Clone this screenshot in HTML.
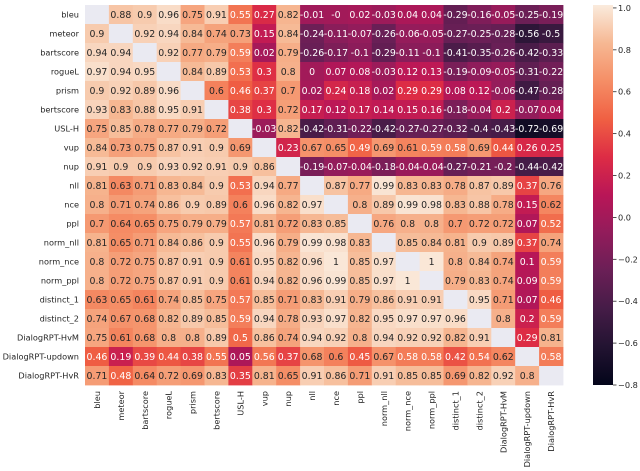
<!DOCTYPE html>
<html><head><meta charset="utf-8">
<style>
html,body{margin:0;padding:0;background:#fff;}
svg{display:block;font-family:"DejaVu Sans","Liberation Sans",sans-serif;}
</style></head>
<body>
<svg id="chart" width="640" height="471" viewBox="0 0 640 471" xmlns="http://www.w3.org/2000/svg"></svg>
<script>
const labels = ["bleu","meteor","bartscore","rogueL","prism","bertscore","USL-H","vup","nup","nll","nce","ppl","norm_nll","norm_nce","norm_ppl","distinct_1","distinct_2","DialogRPT-HvM","DialogRPT-updown","DialogRPT-HvR"];
const N = null;
const row0 = [N,0.88,0.9,0.96,0.75,0.91,0.55,0.27,0.82,-0.01,"-0",0.02,-0.03,0.04,0.04,-0.29,-0.16,-0.05,-0.25,-0.19];
const row1 = [0.9,N,0.92,0.94,0.84,0.74,0.73,0.15,0.84,-0.24,-0.11,-0.07,-0.26,-0.06,-0.05,-0.27,-0.25,-0.28,-0.56,-0.5];
const row2 = [0.94,0.94,N,0.92,0.77,0.79,0.59,0.02,0.79,-0.26,-0.17,-0.1,-0.29,-0.11,-0.1,-0.41,-0.35,-0.26,-0.42,-0.33];
const row3 = [0.97,0.94,0.95,N,0.84,0.89,0.53,0.3,0.8,0,0.07,0.08,-0.03,0.12,0.13,-0.19,-0.09,-0.05,-0.31,-0.22];
const row4 = [0.9,0.92,0.89,0.96,N,0.6,0.46,0.37,0.7,0.02,0.24,0.18,0.02,0.29,0.29,0.08,0.12,-0.06,-0.47,-0.28];
const row5 = [0.93,0.83,0.88,0.95,0.91,N,0.38,0.3,0.72,0.17,0.12,0.17,0.14,0.15,0.16,-0.18,-0.04,0.2,-0.07,0.04];
const row6 = [0.75,0.85,0.78,0.77,0.79,0.72,N,-0.03,0.82,-0.42,-0.31,-0.22,-0.42,-0.27,-0.27,-0.32,-0.4,-0.43,-0.72,-0.69];
const row7 = [0.84,0.73,0.75,0.87,0.91,0.9,0.69,N,0.23,0.67,0.65,0.49,0.69,0.61,0.59,0.58,0.69,0.44,0.26,0.25];
const row8 = [0.91,0.9,0.9,0.93,0.92,0.91,0.9,0.86,N,-0.19,-0.07,-0.04,-0.18,-0.04,-0.04,-0.27,-0.21,-0.2,-0.44,-0.42];
const row9 = [0.81,0.63,0.71,0.83,0.84,0.9,0.53,0.94,0.77,N,0.87,0.77,0.99,0.83,0.83,0.78,0.87,0.89,0.37,0.76];
const row10 = [0.8,0.71,0.74,0.86,0.9,0.89,0.6,0.96,0.82,0.97,N,0.8,0.89,0.99,0.98,0.83,0.88,0.78,0.15,0.62];
const row11 = [0.7,0.64,0.65,0.75,0.79,0.79,0.57,0.81,0.72,0.83,0.85,N,0.76,0.8,0.8,0.7,0.72,0.72,0.07,0.52];
const row12 = [0.81,0.65,0.71,0.84,0.86,0.9,0.55,0.96,0.79,0.99,0.98,0.83,N,0.85,0.84,0.81,0.9,0.89,0.37,0.74];
const row13 = [0.8,0.72,0.75,0.87,0.91,0.9,0.61,0.95,0.82,0.96,1,0.85,0.97,N,1,0.8,0.84,0.74,0.1,0.59];
const row14 = [0.8,0.72,0.75,0.87,0.91,0.9,0.61,0.94,0.82,0.96,0.99,0.85,0.97,1,N,0.79,0.83,0.74,0.09,0.59];
const row15 = [0.63,0.65,0.61,0.74,0.85,0.75,0.57,0.85,0.71,0.83,0.91,0.79,0.86,0.91,0.91,N,0.95,0.71,0.07,0.46];
const row16 = [0.74,0.67,0.68,0.82,0.89,0.85,0.59,0.94,0.78,0.93,0.97,0.82,0.95,0.97,0.97,0.96,N,0.8,0.2,0.59];
const row17 = [0.75,0.61,0.68,0.8,0.8,0.89,0.5,0.86,0.74,0.94,0.92,0.8,0.94,0.92,0.92,0.82,0.91,N,0.29,0.81];
const row18 = [0.46,0.19,0.39,0.44,0.38,0.55,0.05,0.56,0.37,0.68,0.6,0.45,0.67,0.58,0.58,0.42,0.54,0.62,N,0.58];
const row19 = [0.71,0.48,0.64,0.72,0.69,0.83,0.35,0.81,0.65,0.91,0.86,0.71,0.91,0.85,0.85,0.69,0.82,0.92,0.8,N];
const matrix = [row0,row1,row2,row3,row4,row5,row6,row7,row8,row9,row10,row11,row12,row13,row14,row15,row16,row17,row18,row19];
const cbTicks = [-0.8,-0.6,-0.4,-0.2,0.0,0.2,0.4,0.6,0.8,1.0];
const vmin = -0.8, vmax = 1.014;

const svg = document.getElementById('chart');
const NS = 'http://www.w3.org/2000/svg';
const X0 = 85, X1 = 563, Y0 = 5, Y1 = 385;
const n = labels.length;
const cw = (X1 - X0) / n, ch = (Y1 - Y0) / n;
const xPos = i => X0 + i * cw;
const yPos = j => Y0 + j * ch;
const LFS = 8.2;

const stops = ["#03051a","#221331","#451c47","#6a1f56","#921c5b","#b91657","#dd2c45","#f06043","#f58e66","#f6b893","#faebdd"];
function hex(h){return [parseInt(h.slice(1,3),16),parseInt(h.slice(3,5),16),parseInt(h.slice(5,7),16)];}
function cmap(t){
  t = Math.max(0, Math.min(1, t));
  const p = t * (stops.length - 1), i = Math.min(Math.floor(p), stops.length - 2), f = p - i;
  const a = hex(stops[i]), b = hex(stops[i+1]);
  return 'rgb(' + a.map((v,k)=>Math.round(v + (b[k]-v)*f)).join(',') + ')';
}
const norm = v => (v - vmin) / (vmax - vmin);
function mk(tag, attrs){const e=document.createElementNS(NS,tag);for(const k in attrs)e.setAttribute(k,attrs[k]);svg.appendChild(e);return e;}

const cells = document.createElementNS(NS,'g');
svg.appendChild(cells);
for (let r = 0; r < n; r++) {
  for (let c = 0; c < n; c++) {
    const raw = matrix[r][c];
    const v = raw === null ? null : Number(raw);
    const rect = document.createElementNS(NS,'rect');
    rect.setAttribute('x', xPos(c)); rect.setAttribute('y', yPos(r));
    rect.setAttribute('width', cw + 0.4); rect.setAttribute('height', ch + 0.4);
    rect.setAttribute('fill', v === null ? '#eaeaf2' : cmap(norm(v)));
    
    
    cells.appendChild(rect);
    if (v !== null) {
      const t = document.createElementNS(NS,'text');
      t.setAttribute('x', xPos(c) + cw/2); t.setAttribute('y', yPos(r) + ch/2 + 3.4);
      t.setAttribute('text-anchor','middle'); t.setAttribute('font-size','9.4');
      t.setAttribute('fill', v < 0.595 ? '#ffffff' : '#262626');
      t.textContent = String(raw);
      
      
      cells.appendChild(t);
    }
  }
}
for (let r = 0; r < n; r++) {
  const t = mk('text', {x: X0 - 6, y: yPos(r) + ch/2 + 3, 'text-anchor':'end', 'font-size':LFS, fill:'#262626'});
  t.textContent = labels[r];
  
  
}
for (let c = 0; c < n; c++) {
  const x = xPos(c) + cw/2 + 3, y = Y1 + 6;
  const t = mk('text', {x: x, y: y, 'text-anchor':'end', 'font-size':LFS, fill:'#262626', transform:'rotate(-90 '+x+' '+y+')'});
  t.textContent = labels[c];
  
  
}
// colorbar
const CX = 593, CW = 20;
const cbY = v => Y1 - (v - vmin) / (vmax - vmin) * (Y1 - Y0);
const defs = mk('defs', {});
const grad = document.createElementNS(NS,'linearGradient');
grad.setAttribute('id','cbgrad'); grad.setAttribute('x1','0'); grad.setAttribute('y1','1'); grad.setAttribute('x2','0'); grad.setAttribute('y2','0');
stops.forEach((s,i)=>{const st=document.createElementNS(NS,'stop');st.setAttribute('offset', i/(stops.length-1));st.setAttribute('stop-color', s);grad.appendChild(st);});
defs.appendChild(grad);
const cb = mk('rect', {x: CX, y: Y0, width: CW, height: Y1 - Y0, fill: 'url(#cbgrad)'});


cbTicks.forEach(v => {
  const y = cbY(v);
  mk('line', {x1: CX + CW, x2: CX + CW + 3.5, y1: y, y2: y, stroke:'#262626', 'stroke-width':'0.8'});
  const t = mk('text', {x: CX + CW + 5, y: y + 3, 'font-size':LFS, fill:'#262626'});
  t.textContent = (v < 0 ? '\u2212' : '') + Math.abs(v).toFixed(1);
  
  
});
</script>
</body></html>
